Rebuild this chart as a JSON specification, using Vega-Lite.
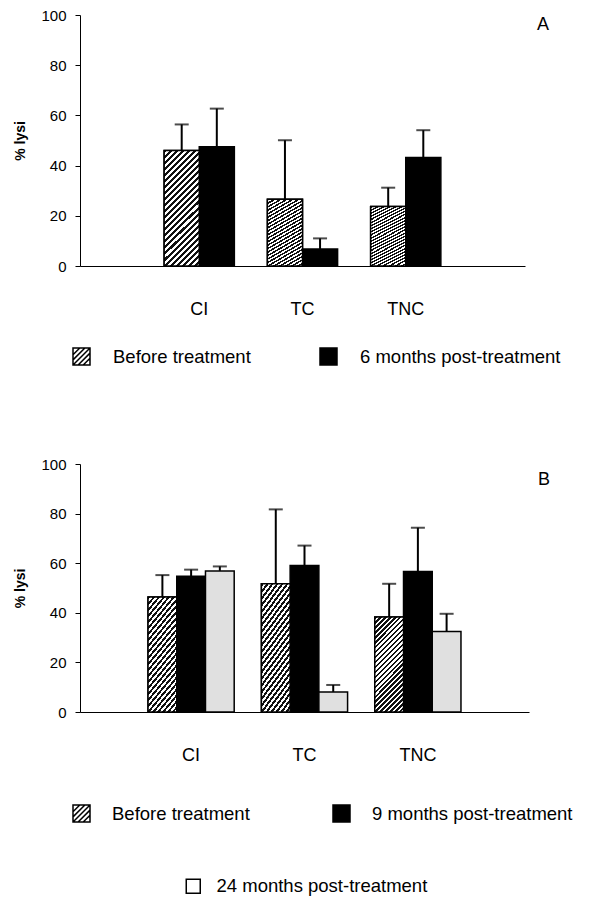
{
  "$schema": "https://vega.github.io/schema/vega-lite/v6.json",
  "background": "white",
  "padding": {"left": 13, "top": 8, "right": 0, "bottom": 0},
  "bounds": "flush",
  "spacing": 198,
  "config": {
    "font": "Liberation Sans",
    "view": {"stroke": null},
    "axisY": {"values": [0, 20, 40, 60, 80, 100], "grid": false, "tickSize": 5, "tickColor": "black", "tickWidth": 1, "domainColor": "black", "domainWidth": 1, "labelFontSize": 15, "labelColor": "black", "labelPadding": 9, "titleFontSize": 14, "titleFontWeight": "bold", "titleColor": "black", "titlePadding": 13},
    "axisX": {"ticks": false, "labelFontSize": 18, "labelColor": "black", "labelPadding": 34, "labelAngle": 0, "domainColor": "black", "domainWidth": 1},
    "legend": {"labelFontSize": 18.5, "labelColor": "black", "labelLimit": 400, "symbolSize": 289, "padding": 0, "offset": 0},
    "title": {"fontSize": 18, "fontWeight": "normal", "color": "black"}
  },
  "datasets": {
    "A": [
      {"group": "CI", "series": "Before treatment", "value": 46, "upper": 56.4},
      {"group": "CI", "series": "6 months post-treatment", "value": 47.5, "upper": 62.7},
      {"group": "TC", "series": "Before treatment", "value": 26.6, "upper": 50.1},
      {"group": "TC", "series": "6 months post-treatment", "value": 6.8, "upper": 11},
      {"group": "TNC", "series": "Before treatment", "value": 23.7, "upper": 31.2},
      {"group": "TNC", "series": "6 months post-treatment", "value": 43.2, "upper": 54.1}
    ],
    "B": [
      {"group": "CI", "series": "Before treatment", "value": 46.4, "upper": 55.2},
      {"group": "CI", "series": "9 months post-treatment", "value": 54.7, "upper": 57.4},
      {"group": "CI", "series": "24 months post-treatment", "value": 56.9, "upper": 58.7},
      {"group": "TC", "series": "Before treatment", "value": 51.7, "upper": 81.7},
      {"group": "TC", "series": "9 months post-treatment", "value": 59.1, "upper": 67.1},
      {"group": "TC", "series": "24 months post-treatment", "value": 8.1, "upper": 10.9},
      {"group": "TNC", "series": "Before treatment", "value": 38.3, "upper": 51.7},
      {"group": "TNC", "series": "9 months post-treatment", "value": 56.7, "upper": 74.3},
      {"group": "TNC", "series": "24 months post-treatment", "value": 32.5, "upper": 39.6}
    ]
  },
  "resolve": {
    "scale": {"x": "independent", "xOffset": "independent", "y": "independent", "fill": "independent", "stroke": "independent"},
    "legend": {"fill": "independent", "stroke": "independent"}
  },
  "vconcat": [
    {
      "width": 445,
      "height": 251,
      "data": {"name": "A"},
      "title": {"text": "A", "anchor": "end", "frame": "group", "offset": -26, "dx": 24},
      "encoding": {
        "x": {"field": "group", "type": "nominal", "title": null, "scale": {"domain": ["CI", "TC", "TNC"], "paddingInner": 0.32, "paddingOuter": 0.815}},
        "xOffset": {"field": "series", "type": "nominal", "scale": {"domain": ["Before treatment", "6 months post-treatment"], "paddingInner": 0, "paddingOuter": 0}}
      },
      "layer": [
        {
          "mark": {"type": "bar", "stroke": "black", "strokeWidth": 1.5},
          "encoding": {
            "y": {"field": "value", "type": "quantitative", "scale": {"domain": [0, 100]}, "axis": {"title": "% lysi"}},
            "fill": {
              "field": "series",
              "type": "nominal",
              "scale": {"domain": ["Before treatment", "6 months post-treatment"], "range": ["#ffffff", "#000000"]},
              "legend": {"title": null, "orient": "none", "legendX": -8, "legendY": 332, "direction": "horizontal", "columns": 2, "columnPadding": 66, "labelOffset": 22, "symbolStrokeColor": "#000000", "symbolStrokeWidth": 1.5,
                "symbolType": "M-1,-1H1V1H-1Z M-1,-0.2L-0.2,-1 M-1,0.4L0.4,-1 M-1,1L1,-1 M-0.4,1L1,-0.4 M0.2,1L1,0.2"}
            }
          }
        },
        {
          "transform": [{"filter": "datum.series === 'Before treatment'"}],
          "mark": {"type": "bar", "stroke": "black", "strokeWidth": 1.5, "fill": {"gradient": "linear", "x1": 0, "y1": 0, "x2": 0.362, "y2": 1.193, "stops": [
            {"offset": 0, "color": "#111"}, {"offset": 0.02, "color": "#111"}, {"offset": 0.02, "color": "#fff"}, {"offset": 0.04, "color": "#fff"},
            {"offset": 0.04, "color": "#111"}, {"offset": 0.06, "color": "#111"}, {"offset": 0.06, "color": "#fff"}, {"offset": 0.08, "color": "#fff"},
            {"offset": 0.08, "color": "#111"}, {"offset": 0.10, "color": "#111"}, {"offset": 0.10, "color": "#fff"}, {"offset": 0.12, "color": "#fff"},
            {"offset": 0.12, "color": "#111"}, {"offset": 0.14, "color": "#111"}, {"offset": 0.14, "color": "#fff"}, {"offset": 0.16, "color": "#fff"},
            {"offset": 0.16, "color": "#111"}, {"offset": 0.18, "color": "#111"}, {"offset": 0.18, "color": "#fff"}, {"offset": 0.20, "color": "#fff"},
            {"offset": 0.20, "color": "#111"}, {"offset": 0.22, "color": "#111"}, {"offset": 0.22, "color": "#fff"}, {"offset": 0.24, "color": "#fff"},
            {"offset": 0.24, "color": "#111"}, {"offset": 0.26, "color": "#111"}, {"offset": 0.26, "color": "#fff"}, {"offset": 0.28, "color": "#fff"},
            {"offset": 0.28, "color": "#111"}, {"offset": 0.30, "color": "#111"}, {"offset": 0.30, "color": "#fff"}, {"offset": 0.32, "color": "#fff"},
            {"offset": 0.32, "color": "#111"}, {"offset": 0.34, "color": "#111"}, {"offset": 0.34, "color": "#fff"}, {"offset": 0.36, "color": "#fff"},
            {"offset": 0.36, "color": "#111"}, {"offset": 0.38, "color": "#111"}, {"offset": 0.38, "color": "#fff"}, {"offset": 0.40, "color": "#fff"},
            {"offset": 0.40, "color": "#111"}, {"offset": 0.42, "color": "#111"}, {"offset": 0.42, "color": "#fff"}, {"offset": 0.44, "color": "#fff"},
            {"offset": 0.44, "color": "#111"}, {"offset": 0.46, "color": "#111"}, {"offset": 0.46, "color": "#fff"}, {"offset": 0.48, "color": "#fff"},
            {"offset": 0.48, "color": "#111"}, {"offset": 0.50, "color": "#111"}, {"offset": 0.50, "color": "#fff"}, {"offset": 0.52, "color": "#fff"},
            {"offset": 0.52, "color": "#111"}, {"offset": 0.54, "color": "#111"}, {"offset": 0.54, "color": "#fff"}, {"offset": 0.56, "color": "#fff"},
            {"offset": 0.56, "color": "#111"}, {"offset": 0.58, "color": "#111"}, {"offset": 0.58, "color": "#fff"}, {"offset": 0.60, "color": "#fff"},
            {"offset": 0.60, "color": "#111"}, {"offset": 0.62, "color": "#111"}, {"offset": 0.62, "color": "#fff"}, {"offset": 0.64, "color": "#fff"},
            {"offset": 0.64, "color": "#111"}, {"offset": 0.66, "color": "#111"}, {"offset": 0.66, "color": "#fff"}, {"offset": 0.68, "color": "#fff"},
            {"offset": 0.68, "color": "#111"}, {"offset": 0.70, "color": "#111"}, {"offset": 0.70, "color": "#fff"}, {"offset": 0.72, "color": "#fff"},
            {"offset": 0.72, "color": "#111"}, {"offset": 0.74, "color": "#111"}, {"offset": 0.74, "color": "#fff"}, {"offset": 0.76, "color": "#fff"},
            {"offset": 0.76, "color": "#111"}, {"offset": 0.78, "color": "#111"}, {"offset": 0.78, "color": "#fff"}, {"offset": 0.80, "color": "#fff"},
            {"offset": 0.80, "color": "#111"}, {"offset": 0.82, "color": "#111"}, {"offset": 0.82, "color": "#fff"}, {"offset": 0.84, "color": "#fff"},
            {"offset": 0.84, "color": "#111"}, {"offset": 0.86, "color": "#111"}, {"offset": 0.86, "color": "#fff"}, {"offset": 0.88, "color": "#fff"},
            {"offset": 0.88, "color": "#111"}, {"offset": 0.90, "color": "#111"}, {"offset": 0.90, "color": "#fff"}, {"offset": 0.92, "color": "#fff"},
            {"offset": 0.92, "color": "#111"}, {"offset": 0.94, "color": "#111"}, {"offset": 0.94, "color": "#fff"}, {"offset": 0.96, "color": "#fff"},
            {"offset": 0.96, "color": "#111"}, {"offset": 0.98, "color": "#111"}, {"offset": 0.98, "color": "#fff"}, {"offset": 1, "color": "#fff"}
          ]}},
          "encoding": {
            "y": {"field": "value", "type": "quantitative"}
          }
        },
        {
          "mark": {"type": "rule", "color": "black", "strokeWidth": 2},
          "encoding": {
            "y": {"field": "value", "type": "quantitative"},
            "y2": {"field": "upper"}
          }
        },
        {
          "mark": {"type": "tick", "color": "black", "thickness": 2, "size": 14},
          "encoding": {
            "y": {"field": "upper", "type": "quantitative"}
          }
        }
      ]
    },
    {
      "width": 449,
      "height": 248,
      "data": {"name": "B"},
      "title": {"text": "B", "anchor": "end", "frame": "group", "offset": -32, "dx": 21},
      "encoding": {
        "x": {"field": "group", "type": "nominal", "title": null, "scale": {"domain": ["CI", "TC", "TNC"], "paddingInner": 0.24, "paddingOuter": 0.6}},
        "xOffset": {"field": "series", "type": "nominal", "scale": {"domain": ["Before treatment", "9 months post-treatment", "24 months post-treatment"], "paddingInner": 0, "paddingOuter": 0}}
      },
      "layer": [
        {
          "mark": {"type": "bar", "strokeWidth": 1.5},
          "encoding": {
            "y": {"field": "value", "type": "quantitative", "scale": {"domain": [0, 100]}, "axis": {"title": "% lysi"}},
            "fill": {
              "field": "series",
              "type": "nominal",
              "scale": {"domain": ["Before treatment", "9 months post-treatment", "24 months post-treatment"], "range": ["#ffffff", "#000000", "#e0e0e0"]},
              "legend": {"title": null, "orient": "none", "legendX": -8, "legendY": 340, "direction": "horizontal", "columns": 2, "columnPadding": 80, "labelOffset": 21, "symbolStrokeColor": "#000000", "symbolStrokeWidth": 1.5, "values": ["Before treatment", "9 months post-treatment"],
                "symbolType": "M-1,-1H1V1H-1Z M-1,-0.2L-0.2,-1 M-1,0.4L0.4,-1 M-1,1L1,-1 M-0.4,1L1,-0.4 M0.2,1L1,0.2"}
            },
            "stroke": {
              "field": "series",
              "type": "nominal",
              "scale": {"domain": ["24 months post-treatment", "Before treatment", "9 months post-treatment"], "range": ["#000000", "#000000", "#000000"]},
              "legend": {"title": null, "orient": "none", "legendX": 104, "legendY": 413, "direction": "horizontal", "labelOffset": 14, "symbolType": "square", "symbolSize": 196, "symbolFillColor": "#ffffff", "symbolStrokeWidth": 1.5, "values": ["24 months post-treatment"]}
            }
          }
        },
        {
          "transform": [{"filter": "datum.series === 'Before treatment'"}],
          "mark": {"type": "bar", "stroke": "black", "strokeWidth": 1.5, "fill": {"gradient": "linear", "x1": 0, "y1": 0, "x2": 0.362, "y2": 1.193, "stops": [
            {"offset": 0, "color": "#111"}, {"offset": 0.02, "color": "#111"}, {"offset": 0.02, "color": "#fff"}, {"offset": 0.04, "color": "#fff"},
            {"offset": 0.04, "color": "#111"}, {"offset": 0.06, "color": "#111"}, {"offset": 0.06, "color": "#fff"}, {"offset": 0.08, "color": "#fff"},
            {"offset": 0.08, "color": "#111"}, {"offset": 0.10, "color": "#111"}, {"offset": 0.10, "color": "#fff"}, {"offset": 0.12, "color": "#fff"},
            {"offset": 0.12, "color": "#111"}, {"offset": 0.14, "color": "#111"}, {"offset": 0.14, "color": "#fff"}, {"offset": 0.16, "color": "#fff"},
            {"offset": 0.16, "color": "#111"}, {"offset": 0.18, "color": "#111"}, {"offset": 0.18, "color": "#fff"}, {"offset": 0.20, "color": "#fff"},
            {"offset": 0.20, "color": "#111"}, {"offset": 0.22, "color": "#111"}, {"offset": 0.22, "color": "#fff"}, {"offset": 0.24, "color": "#fff"},
            {"offset": 0.24, "color": "#111"}, {"offset": 0.26, "color": "#111"}, {"offset": 0.26, "color": "#fff"}, {"offset": 0.28, "color": "#fff"},
            {"offset": 0.28, "color": "#111"}, {"offset": 0.30, "color": "#111"}, {"offset": 0.30, "color": "#fff"}, {"offset": 0.32, "color": "#fff"},
            {"offset": 0.32, "color": "#111"}, {"offset": 0.34, "color": "#111"}, {"offset": 0.34, "color": "#fff"}, {"offset": 0.36, "color": "#fff"},
            {"offset": 0.36, "color": "#111"}, {"offset": 0.38, "color": "#111"}, {"offset": 0.38, "color": "#fff"}, {"offset": 0.40, "color": "#fff"},
            {"offset": 0.40, "color": "#111"}, {"offset": 0.42, "color": "#111"}, {"offset": 0.42, "color": "#fff"}, {"offset": 0.44, "color": "#fff"},
            {"offset": 0.44, "color": "#111"}, {"offset": 0.46, "color": "#111"}, {"offset": 0.46, "color": "#fff"}, {"offset": 0.48, "color": "#fff"},
            {"offset": 0.48, "color": "#111"}, {"offset": 0.50, "color": "#111"}, {"offset": 0.50, "color": "#fff"}, {"offset": 0.52, "color": "#fff"},
            {"offset": 0.52, "color": "#111"}, {"offset": 0.54, "color": "#111"}, {"offset": 0.54, "color": "#fff"}, {"offset": 0.56, "color": "#fff"},
            {"offset": 0.56, "color": "#111"}, {"offset": 0.58, "color": "#111"}, {"offset": 0.58, "color": "#fff"}, {"offset": 0.60, "color": "#fff"},
            {"offset": 0.60, "color": "#111"}, {"offset": 0.62, "color": "#111"}, {"offset": 0.62, "color": "#fff"}, {"offset": 0.64, "color": "#fff"},
            {"offset": 0.64, "color": "#111"}, {"offset": 0.66, "color": "#111"}, {"offset": 0.66, "color": "#fff"}, {"offset": 0.68, "color": "#fff"},
            {"offset": 0.68, "color": "#111"}, {"offset": 0.70, "color": "#111"}, {"offset": 0.70, "color": "#fff"}, {"offset": 0.72, "color": "#fff"},
            {"offset": 0.72, "color": "#111"}, {"offset": 0.74, "color": "#111"}, {"offset": 0.74, "color": "#fff"}, {"offset": 0.76, "color": "#fff"},
            {"offset": 0.76, "color": "#111"}, {"offset": 0.78, "color": "#111"}, {"offset": 0.78, "color": "#fff"}, {"offset": 0.80, "color": "#fff"},
            {"offset": 0.80, "color": "#111"}, {"offset": 0.82, "color": "#111"}, {"offset": 0.82, "color": "#fff"}, {"offset": 0.84, "color": "#fff"},
            {"offset": 0.84, "color": "#111"}, {"offset": 0.86, "color": "#111"}, {"offset": 0.86, "color": "#fff"}, {"offset": 0.88, "color": "#fff"},
            {"offset": 0.88, "color": "#111"}, {"offset": 0.90, "color": "#111"}, {"offset": 0.90, "color": "#fff"}, {"offset": 0.92, "color": "#fff"},
            {"offset": 0.92, "color": "#111"}, {"offset": 0.94, "color": "#111"}, {"offset": 0.94, "color": "#fff"}, {"offset": 0.96, "color": "#fff"},
            {"offset": 0.96, "color": "#111"}, {"offset": 0.98, "color": "#111"}, {"offset": 0.98, "color": "#fff"}, {"offset": 1, "color": "#fff"}
          ]}},
          "encoding": {
            "y": {"field": "value", "type": "quantitative"}
          }
        },
        {
          "mark": {"type": "rule", "color": "black", "strokeWidth": 2},
          "encoding": {
            "y": {"field": "value", "type": "quantitative"},
            "y2": {"field": "upper"}
          }
        },
        {
          "mark": {"type": "tick", "color": "black", "thickness": 2, "size": 14},
          "encoding": {
            "y": {"field": "upper", "type": "quantitative"}
          }
        }
      ]
    }
  ]
}
